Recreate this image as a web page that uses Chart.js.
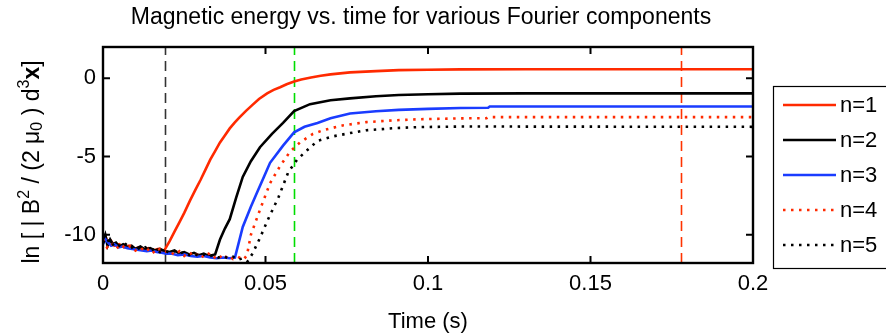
<!DOCTYPE html>
<html>
<head>
<meta charset="utf-8">
<script src="https://cdn.jsdelivr.net/npm/chart.js@4/dist/chart.umd.min.js"></script>
<style>
  html, body { margin: 0; padding: 0; background: #fff; }
  #wrap { width: 886px; height: 335px; }
</style>
</head>
<body>
<div id="wrap"><canvas id="c" width="886" height="335"></canvas></div>
<script>
// Fourier components n = 1..5: time (s) and ln of magnetic energy
const seriesNames = ['n=1', 'n=2', 'n=3', 'n=4', 'n=5'];

const n1Time = [0, 0.0008, 0.0015, 0.0025, 0.0035, 0.005, 0.0065, 0.008, 0.0095, 0.011, 0.0125, 0.014, 0.0155, 0.017, 0.0183, 0.019,
  0.0205, 0.022, 0.0235, 0.025, 0.0268, 0.0285, 0.030, 0.0315, 0.033, 0.0345, 0.036, 0.0375, 0.039, 0.0405, 0.042, 0.044, 0.046,
  0.048, 0.0505, 0.0525, 0.0545, 0.0565, 0.0588, 0.061, 0.064, 0.067, 0.070, 0.076, 0.084, 0.091, 0.10, 0.11, 0.13, 0.16, 0.20];
const n1Energy = [-10.5, -10.1, -10.6, -10.4, -10.7, -10.6, -10.8, -10.7, -10.9, -10.8, -10.95, -10.85, -11.0, -10.9, -11.05, -10.95,
  -10.4, -9.8, -9.2, -8.6, -7.8, -7.1, -6.5, -5.85, -5.2, -4.65, -4.1, -3.65, -3.2, -2.83, -2.5, -2.08, -1.7,
  -1.32, -0.96, -0.74, -0.57, -0.38, -0.2, -0.07, 0.05, 0.16, 0.25, 0.38, 0.46, 0.52, 0.55, 0.57, 0.58, 0.58, 0.58];

const n2Time = [0, 0.0007, 0.0014, 0.0022, 0.003, 0.004, 0.005, 0.0062, 0.0075, 0.0088, 0.01, 0.0115, 0.013, 0.0145, 0.016, 0.0175,
  0.019, 0.0205, 0.022, 0.0235, 0.025, 0.0265, 0.028, 0.0295, 0.031, 0.0325, 0.0345,
  0.036, 0.0375, 0.039, 0.041, 0.043, 0.0455, 0.0483, 0.052, 0.0554, 0.0588, 0.0637, 0.070, 0.076, 0.084, 0.091, 0.10, 0.11, 0.13, 0.20];
const n2Energy = [-10.4, -10.0, -10.7, -10.3, -10.6, -10.5, -10.75, -10.6, -10.8, -10.7, -10.9, -10.75, -10.95, -10.85, -11.0, -10.9,
  -11.05, -11.1, -11.0, -11.2, -11.1, -11.25, -11.15, -11.3, -11.2, -11.35, -11.25,
  -10.3, -9.6, -9.0, -7.6, -6.3, -5.3, -4.4, -3.55, -2.85, -2.1, -1.65, -1.4, -1.28, -1.15, -1.07, -1.02, -0.98, -0.96, -0.96];

const n3Time = [0, 0.0008, 0.0016, 0.0025, 0.0035, 0.0048, 0.006, 0.0075, 0.009, 0.0105, 0.012, 0.0135, 0.015, 0.0165, 0.018, 0.0195,
  0.021, 0.023, 0.025, 0.027, 0.029, 0.031, 0.033, 0.035, 0.037, 0.039, 0.0406,
  0.043, 0.0455, 0.0474, 0.0495, 0.0514, 0.0554, 0.0588, 0.062, 0.066, 0.070, 0.076, 0.084, 0.091, 0.10, 0.11, 0.1185, 0.119, 0.20];
const n3Energy = [-10.6, -10.3, -10.5, -10.7, -10.6, -10.8, -10.75, -10.85, -10.9, -10.95, -11.0, -11.05, -11.0, -11.1, -11.15, -11.2,
  -11.2, -11.3, -11.25, -11.35, -11.4, -11.35, -11.45, -11.5, -11.45, -11.5, -11.45,
  -9.5, -8.2, -7.3, -6.3, -5.4, -4.3, -3.45, -3.1, -2.85, -2.55, -2.25, -2.1, -2.02, -1.95, -1.9, -1.88, -1.8, -1.8];

const n4Time = [0, 0.0012, 0.0025, 0.004, 0.0055, 0.007, 0.0085, 0.01, 0.0115, 0.013, 0.0145, 0.016, 0.0175, 0.019, 0.0205, 0.022,
  0.0235, 0.025, 0.0265, 0.028, 0.0295, 0.031, 0.0325, 0.034, 0.0355, 0.037, 0.0385, 0.04, 0.0415, 0.0432, 0.0443,
  0.0455, 0.0483, 0.0514, 0.0545, 0.0575, 0.0606, 0.0646, 0.068, 0.074, 0.081, 0.090, 0.0966, 0.11, 0.118, 0.1185, 0.20];
const n4Energy = [-10.3, -10.8, -10.5, -10.9, -10.6, -10.9, -10.7, -11.0, -10.8, -11.1, -10.85, -11.2, -10.9, -11.1, -11.0, -11.3,
  -11.05, -11.35, -11.1, -11.4, -11.15, -11.45, -11.2, -11.5, -11.25, -11.6, -11.3, -11.55, -11.4, -11.6, -11.3,
  -10.0, -8.4, -6.7, -5.6, -4.7, -4.1, -3.55, -3.3, -3.0, -2.8, -2.68, -2.62, -2.56, -2.55, -2.48, -2.48];

const n5Time = [0, 0.0012, 0.0025, 0.004, 0.0055, 0.007, 0.0085, 0.01, 0.0115, 0.013, 0.0145, 0.016, 0.0175, 0.019, 0.0205, 0.022,
  0.0235, 0.025, 0.0265, 0.028, 0.0295, 0.031, 0.0325, 0.034, 0.0355, 0.037, 0.0385, 0.04, 0.0415, 0.043, 0.0445, 0.046,
  0.0483, 0.0508, 0.054, 0.057, 0.0597, 0.0628, 0.066, 0.071, 0.076, 0.081, 0.090, 0.0966, 0.11, 0.20];
const n5Energy = [-10.5, -10.2, -10.7, -10.5, -10.8, -10.6, -10.85, -10.7, -10.95, -10.8, -11.0, -10.9, -11.1, -11.0, -11.15, -11.05,
  -11.2, -11.1, -11.3, -11.2, -11.35, -11.25, -11.4, -11.3, -11.45, -11.35, -11.5, -11.4, -11.6, -11.5, -11.7, -11.2,
  -10.2, -9.0, -7.6, -6.0, -5.2, -4.6, -4.0, -3.7, -3.5, -3.32, -3.18, -3.12, -3.08, -3.1];

// vertical reference times (s)
const markerTimes = [0.019, 0.0588, 0.178];

// axis ticks
const xTickValues = [0, 0.05, 0.1, 0.15, 0.2];
const xTickLabels = ['0', '0.05', '0.1', '0.15', '0.2'];
const yTickValues = [0, -5, -10];
const yTickLabels = ['0', '-5', '-10'];

const xRange = [0, 0.2];
const yRange = [-11.8, 2];

// ---- styling ----
const FONT = '"Liberation Sans", Arial, Helvetica, sans-serif';
const seriesStyles = [
  { color: '#ff2a00', dash: [] },
  { color: '#000000', dash: [] },
  { color: '#1a3cff', dash: [] },
  { color: '#ff2a00', dash: [2.5, 5.5] },
  { color: '#000000', dash: [2.5, 5.5] }
];
const markerStyles = [
  { color: '#333333' },
  { color: '#00dd00' },
  { color: '#ff3300' }
];

const timeCols = [n1Time, n2Time, n3Time, n4Time, n5Time];
const energyCols = [n1Energy, n2Energy, n3Energy, n4Energy, n5Energy];

const datasets = seriesNames.map((name, i) => ({
  label: name,
  data: timeCols[i].map((t, k) => ({ x: t, y: energyCols[i][k] })),
  borderColor: seriesStyles[i].color,
  borderWidth: 2.6,
  borderDash: seriesStyles[i].dash,
  borderCapStyle: 'butt',
  pointRadius: 0,
  tension: 0,
  fill: false,
  order: seriesNames.length - i
}));

const decorations = {
  id: 'decorations',
  beforeDatasetsDraw(chart) {
    const { ctx, chartArea: a } = chart;
    const xs = chart.scales.x;
    ctx.save();
    ctx.lineWidth = 1.6;
    ctx.setLineDash([10, 6]);
    markerTimes.forEach((t, i) => {
      const px = Math.round(xs.getPixelForValue(t)) + 0.5;
      ctx.strokeStyle = markerStyles[i].color;
      ctx.beginPath();
      ctx.moveTo(px, a.bottom);
      ctx.lineTo(px, a.top);
      ctx.stroke();
    });
    ctx.restore();
  },
  afterDatasetsDraw(chart) {
    const { ctx, chartArea: a } = chart;
    const xs = chart.scales.x, ys = chart.scales.y;
    ctx.save();
    ctx.setLineDash([]);

    // axes box
    ctx.strokeStyle = '#000';
    ctx.lineWidth = 2.4;
    ctx.strokeRect(a.left, a.top, a.right - a.left, a.bottom - a.top);

    // inward ticks
    const tl = 7;
    ctx.lineWidth = 2;
    ctx.beginPath();
    xTickValues.forEach(v => {
      const px = xs.getPixelForValue(v);
      ctx.moveTo(px, a.bottom); ctx.lineTo(px, a.bottom - tl);
      ctx.moveTo(px, a.top); ctx.lineTo(px, a.top + tl);
    });
    yTickValues.forEach(v => {
      const py = ys.getPixelForValue(v);
      ctx.moveTo(a.left, py); ctx.lineTo(a.left + tl, py);
      ctx.moveTo(a.right, py); ctx.lineTo(a.right - tl, py);
    });
    ctx.stroke();

    // tick labels
    ctx.fillStyle = '#000';
    ctx.font = '22px ' + FONT;
    ctx.textAlign = 'center';
    ctx.textBaseline = 'middle';
    xTickValues.forEach((v, i) => {
      ctx.fillText(xTickLabels[i], xs.getPixelForValue(v), a.bottom + 21);
    });
    ctx.textAlign = 'right';
    yTickValues.forEach((v, i) => {
      ctx.fillText(yTickLabels[i], a.left - 7, ys.getPixelForValue(v));
    });

    // title
    ctx.textAlign = 'center';
    ctx.font = '23px ' + FONT;
    ctx.fillText('Magnetic energy vs. time for various Fourier components', 421, 18);

    // x axis title
    ctx.font = '22px ' + FONT;
    ctx.fillText('Time (s)', (a.left + a.right) / 2, 322);

    // y axis title with super/subscripts
    const base = '23px ' + FONT, small = '16px ' + FONT, bold = 'bold 23px ' + FONT;
    const parts = [
      { t: 'ln [ | B', f: base, dy: 0 },
      { t: '2', f: small, dy: -8 },
      { t: ' / (2 μ', f: base, dy: 0 },
      { t: '0', f: small, dy: 5 },
      { t: ' ) d', f: base, dy: 0 },
      { t: '3', f: small, dy: -8 },
      { t: 'x', f: bold, dy: 0 },
      { t: ']', f: base, dy: 0 }
    ];
    let total = 0;
    parts.forEach(p => { ctx.font = p.f; p.w = ctx.measureText(p.t).width; total += p.w; });
    ctx.translate(33, 162);
    ctx.rotate(-Math.PI / 2);
    ctx.textAlign = 'left';
    let cx = -total / 2;
    parts.forEach(p => { ctx.font = p.f; ctx.fillText(p.t, cx, p.dy); cx += p.w; });
    ctx.setTransform(1, 0, 0, 1, 0, 0);

    // legend
    const lx = 773.5, ly = 86.5, lw = 120, lh = 182;
    ctx.fillStyle = '#fff';
    ctx.fillRect(lx, ly, lw, lh);
    ctx.strokeStyle = '#000';
    ctx.lineWidth = 1.2;
    ctx.strokeRect(lx, ly, lw, lh);
    ctx.font = '22px ' + FONT;
    ctx.textAlign = 'left';
    ctx.textBaseline = 'middle';
    seriesNames.forEach((name, i) => {
      const y = 105 + i * 35;
      ctx.strokeStyle = seriesStyles[i].color;
      ctx.lineWidth = 2.6;
      ctx.lineCap = 'butt';
      ctx.setLineDash(seriesStyles[i].dash);
      ctx.beginPath();
      ctx.moveTo(783, y); ctx.lineTo(836, y);
      ctx.stroke();
      ctx.setLineDash([]);
      ctx.fillStyle = '#000';
      ctx.fillText(name, 840, y + 1);
    });
    ctx.restore();
  }
};

new Chart(document.getElementById('c'), {
  type: 'line',
  data: { datasets },
  options: {
    responsive: false,
    animation: false,
    devicePixelRatio: 1,
    layout: { padding: { left: 103, right: 133, top: 47, bottom: 72 } },
    scales: {
      x: { type: 'linear', min: xRange[0], max: xRange[1], display: false },
      y: { type: 'linear', min: yRange[0], max: yRange[1], display: false }
    },
    plugins: { legend: { display: false }, title: { display: false }, tooltip: { enabled: false } }
  },
  plugins: [decorations]
});
</script>
</body>
</html>
